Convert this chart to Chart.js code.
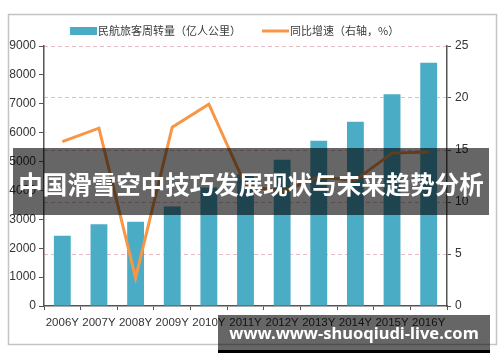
<!DOCTYPE html>
<html>
<head>
<meta charset="utf-8">
<script src="https://cdn.jsdelivr.net/npm/chart.js@4"></script>
<style>
  html, body { margin: 0; padding: 0; background: #fff; }
  #wrap { width: 500px; height: 362px; }
</style>
</head>
<body>
<div id="wrap"><canvas id="myChart" width="500" height="362"></canvas></div>
<script>
const years = ['2006Y', '2007Y', '2008Y', '2009Y', '2010Y', '2011Y', '2012Y', '2013Y', '2014Y', '2015Y', '2016Y'];
const passengerKm = [2430, 2830, 2920, 3440, 4100, 4560, 5060, 5720, 6380, 7330, 8420];
const growthRate = [15.8, 17.1, 2.7, 17.2, 19.4, 11.6, 11.0, 12.4, 12.1, 14.7, 14.8];
const barLabel = '民航旅客周转量（亿人公里）';
const lineLabel = '同比增速（右轴，%）';
const bannerText = '中国滑雪空中技巧发展现状与未来趋势分析';
const watermarkText = 'www.www-shuoqiudi-live.com';

const cjk = '"Noto Sans CJK SC", "Noto Sans", sans-serif';
const narrow = '"Liberation Sans Narrow", "Liberation Sans", Arial, sans-serif';

// frame, legend and the two overlay bands
const decorPlugin = {
    id: 'decor',
    beforeDraw(chart) {
        const ctx = chart.ctx;
        ctx.save();
        ctx.fillStyle = '#fff';
        ctx.fillRect(0, 0, chart.width, chart.height);
        ctx.strokeStyle = '#c4c4c4';
        ctx.lineWidth = 1.5;
        ctx.strokeRect(8.5, 14.5, 488, 330);
        ctx.restore();
    },
    afterDraw(chart) {
        const ctx = chart.ctx;
        const bar = chart.data.datasets[0];
        const line = chart.data.datasets[1];
        ctx.save();
        ctx.font = '11px ' + cjk;
        ctx.textBaseline = 'middle';
        ctx.fillStyle = bar.backgroundColor;
        ctx.fillRect(70, 27, 27, 8);
        ctx.fillStyle = '#3a3a3a';
        ctx.fillText(bar.label, 98, 31);
        ctx.strokeStyle = line.borderColor;
        ctx.lineWidth = 3;
        ctx.beginPath();
        ctx.moveTo(262, 31);
        ctx.lineTo(289, 31);
        ctx.stroke();
        ctx.fillStyle = '#3a3a3a';
        ctx.fillText(line.label, 290, 31);

        // title band
        ctx.fillStyle = 'rgba(0,0,0,0.6)';
        ctx.fillRect(13, 148, 476, 67);
        ctx.fillStyle = '#fff';
        ctx.font = 'bold 24.5px ' + cjk;
        ctx.textAlign = 'center';
        ctx.fillText(bannerText, 251, 185);

        // watermark band
        ctx.fillStyle = 'rgba(0,0,0,0.6)';
        ctx.fillRect(218, 315, 272, 35);
        ctx.fillStyle = '#000';
        ctx.fillRect(218, 350, 272, 3);
        ctx.fillStyle = '#fff';
        ctx.font = 'bold 16.5px "Noto Sans", "Open Sans", sans-serif';
        ctx.fillText(watermarkText, 354, 334);
        ctx.restore();
    }
};

new Chart(document.getElementById('myChart'), {
    type: 'bar',
    data: {
        labels: years,
        datasets: [{
            label: barLabel,
            data: passengerKm,
            backgroundColor: '#4bacc6',
            barPercentage: 0.46,
            categoryPercentage: 1,
            yAxisID: 'y',
            order: 1
        }, {
            type: 'line',
            label: lineLabel,
            data: growthRate,
            borderColor: '#f79646',
            borderWidth: 3,
            pointRadius: 0,
            tension: 0,
            yAxisID: 'y2',
            order: 0
        }]
    },
    options: {
        responsive: false,
        animation: false,
        layout: { padding: { top: 46, left: 0, right: 0, bottom: 0 } },
        plugins: {
            legend: { display: false },
            tooltip: { enabled: false }
        },
        scales: {
            x: {
                afterFit: s => { s.height = 56; },
                grid: { offset: true, drawOnChartArea: false, tickLength: 4, color: '#555' },
                border: { color: '#555', width: 1.5 },
                ticks: {
                    color: '#333', font: { family: narrow, size: 11.5 }, padding: 6,
                    autoSkip: false, maxRotation: 0, minRotation: 0
                }
            },
            y: {
                position: 'left',
                min: 0,
                max: 9000,
                afterFit: s => { s.width = 44; },
                grid: { drawOnChartArea: false, tickLength: 5, color: '#555' },
                border: { color: '#555', width: 1.5 },
                ticks: {
                    stepSize: 1000, color: '#333', font: { family: narrow, size: 12 }, padding: 3,
                    callback: v => String(v)
                }
            },
            y2: {
                position: 'right',
                min: 0,
                max: 25,
                afterFit: s => { s.width = 53; },
                grid: {
                    color: ctx => ctx.tick && ctx.tick.value === 0 ? 'rgba(0,0,0,0)' : '#e6bcc4',
                    tickColor: '#555',
                    tickLength: 4
                },
                border: { color: '#555', width: 1.5, dash: [4, 3] },
                ticks: { stepSize: 5, color: '#333', font: { family: '"Liberation Sans", Arial, sans-serif', size: 12 }, padding: 4 }
            }
        }
    },
    plugins: [decorPlugin]
});
</script>
</body>
</html>
